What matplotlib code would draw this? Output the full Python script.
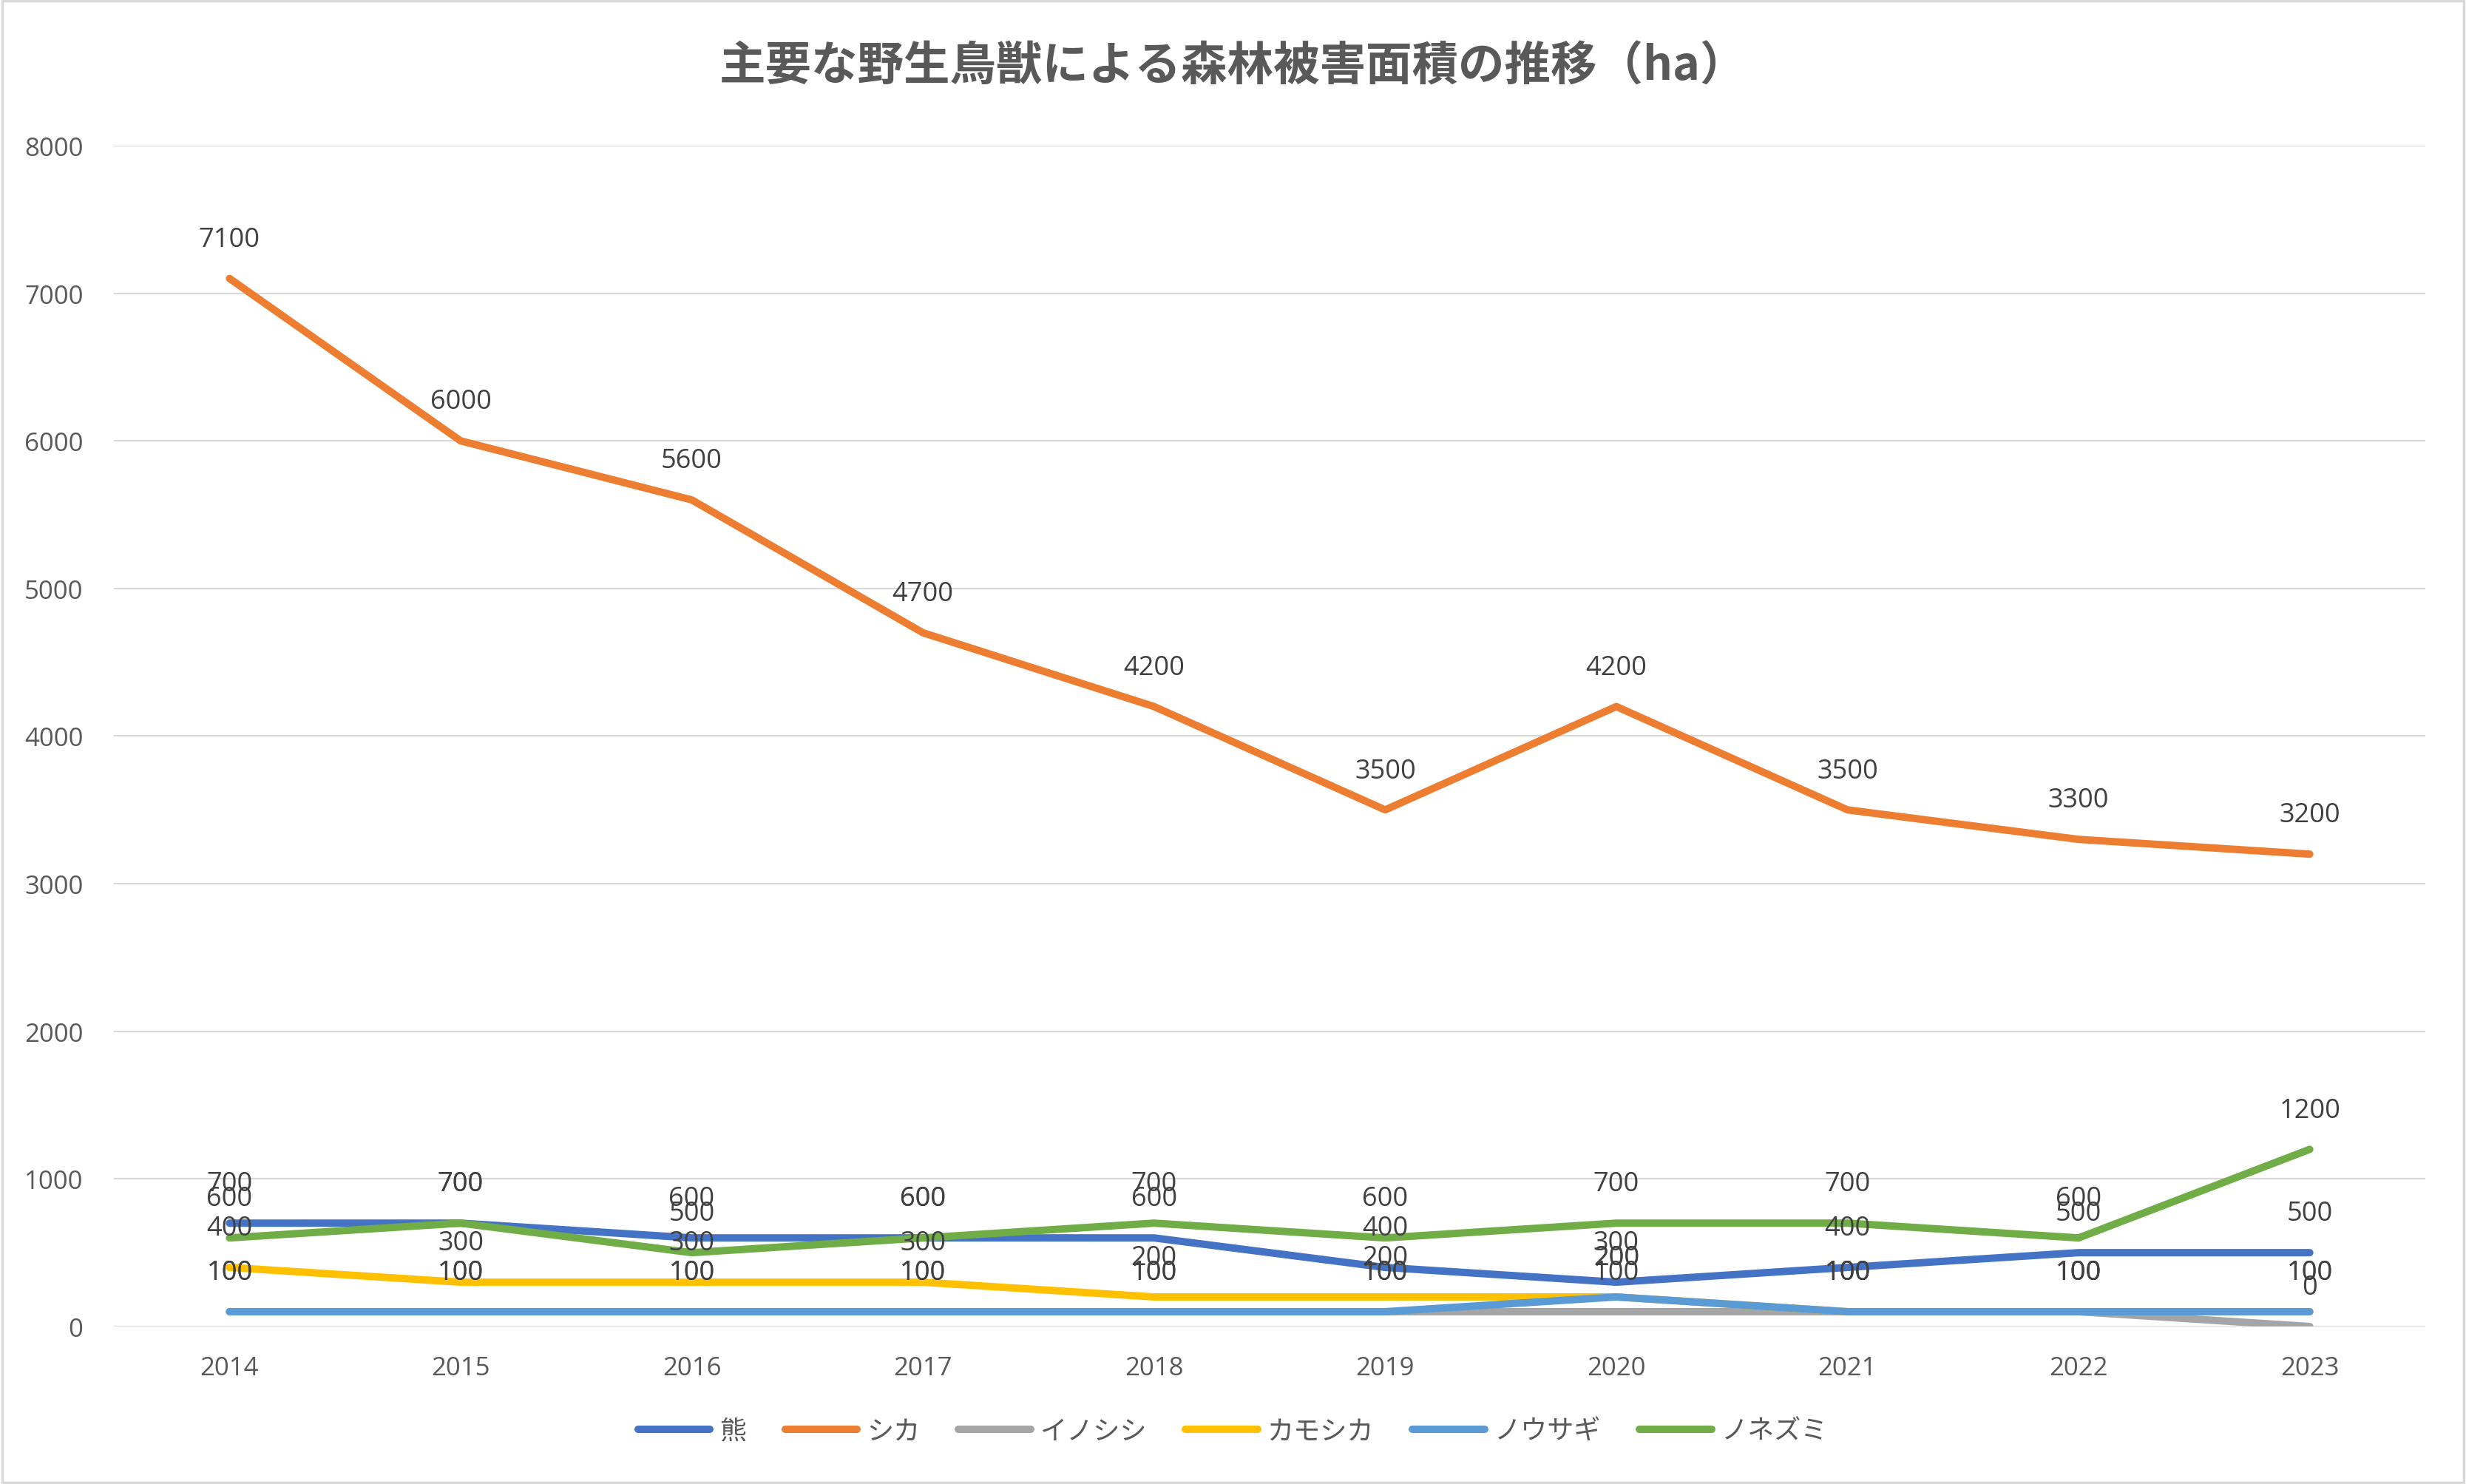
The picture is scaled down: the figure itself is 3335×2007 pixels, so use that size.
import matplotlib
matplotlib.use("Agg")
import matplotlib.pyplot as plt
from matplotlib.patches import Rectangle

# Datos (ha)
years = ["2014", "2015", "2016", "2017", "2018", "2019", "2020", "2021", "2022", "2023"]
kuma     = [700, 700, 600, 600, 600, 400, 300, 400, 500, 500]
shika    = [7100, 6000, 5600, 4700, 4200, 3500, 4200, 3500, 3300, 3200]
inoshishi = [100, 100, 100, 100, 100, 100, 100, 100, 100, 0]
kamoshika = [400, 300, 300, 300, 200, 200, 200, 100, 100, 100]
nousagi  = [100, 100, 100, 100, 100, 100, 200, 100, 100, 100]
nonezumi = [600, 700, 500, 600, 700, 600, 700, 700, 600, 1200]

series_names = ["熊", "シカ", "イノシシ", "カモシカ", "ノウサギ", "ノネズミ"]
series_vals = [kuma, shika, inoshishi, kamoshika, nousagi, nonezumi]
colors = ["#4472C4", "#ED7D31", "#A5A5A5", "#FFC000", "#5B9BD5", "#70AD47"]

title = "主要な野生鳥獣による森林被害面積の推移（ha）"

plt.rcParams["font.family"] = ["Open Sans", "Noto Sans CJK JP", "DejaVu Sans"]

fig = plt.figure(figsize=(33.35, 20.08), dpi=100)
ax = fig.add_axes([0.0462, 0.1061, 0.9373, 0.7953])

x = list(range(len(years)))
for name, vals, c in zip(series_names, series_vals, colors):
    ax.plot(x, vals, color=c, lw=7.2, solid_capstyle="round",
            solid_joinstyle="round", label=name)

# etiquetas de datos (encima de cada punto)
for vals in series_vals:
    for xi, v in zip(x, vals):
        ax.annotate(str(v), (xi, v), xytext=(0, 38), textcoords="offset points",
                    ha="center", va="center", fontsize=26, color="#404040")

ax.set_xlim(-0.5, len(years) - 0.5)
ax.set_ylim(0, 8000)
ax.set_yticks(range(0, 8001, 1000))
ax.set_xticks(x)
ax.set_xticklabels(years)
ax.tick_params(axis="both", length=0, labelsize=25, colors="#595959")
ax.tick_params(axis="y", pad=30)
ax.tick_params(axis="x", pad=28)
ax.grid(axis="y", color="#D9D9D9", lw=1.6)
ax.set_axisbelow(True)
for s in ax.spines.values():
    s.set_visible(False)

fig.text(0.5, 0.955, title, ha="center", va="center", fontsize=45,
         fontweight="bold", color="#595959",
         family=["Noto Sans CJK JP", "DejaVu Sans"])

leg = fig.legend(loc="center", bbox_to_anchor=(0.5, 0.0355), ncol=6,
                 frameon=False, handlelength=2.7,
                 handletextpad=0.35, columnspacing=1.45,
                 prop={"family": ["Noto Sans CJK JP"], "size": 26})
for t in leg.get_texts():
    t.set_color("#595959")

# borde del gráfico
fig.patches.append(Rectangle((0.0008, 0.0012), 0.9984, 0.9976,
                             transform=fig.transFigure, fill=False,
                             edgecolor="#D9D9D9", lw=2.5))

fig.savefig("out.png", dpi=100, facecolor="white")
